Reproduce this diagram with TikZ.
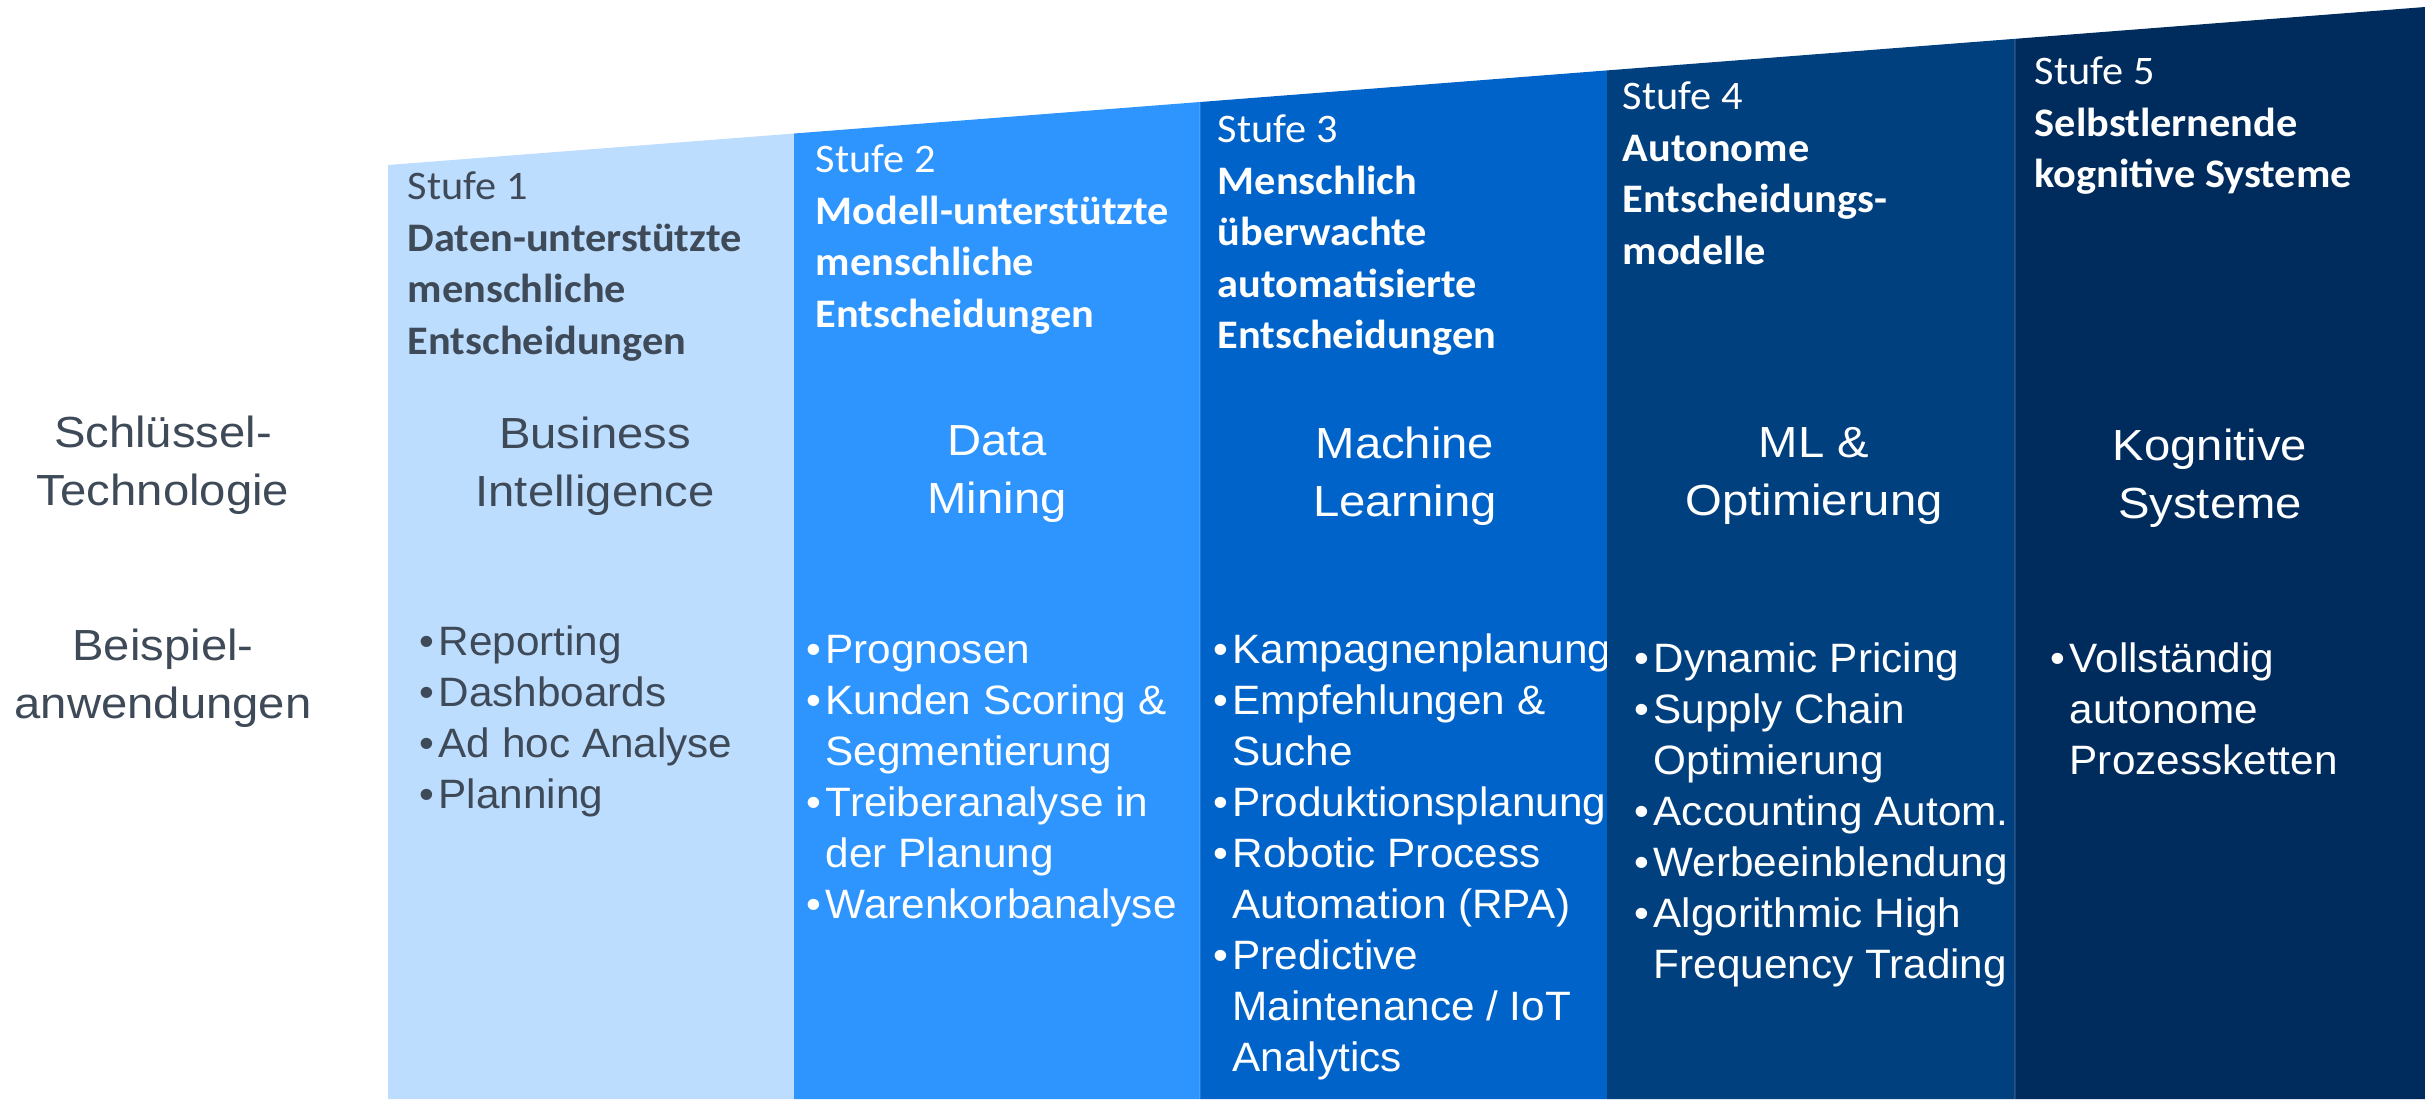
\documentclass[tikz,border=0pt]{standalone}
\usepackage{fontspec}
\setmainfont{Liberation Sans}
\newfontfamily\calib[FakeStretch=1.045]{Carlito}
\newfontfamily\techfont[FakeStretch=1.085]{Liberation Sans}
\newfontfamily\bulfont[FakeStretch=1.03]{Liberation Sans}
\definecolor{cone}{HTML}{BDDDFF}
\definecolor{ctwo}{HTML}{2E95FF}
\definecolor{cthree}{HTML}{0063C9}
\definecolor{cfour}{HTML}{00407F}
\definecolor{cfive}{HTML}{002C5D}
\definecolor{darktxt}{HTML}{3F4A58}
\newcommand\bpt{\makebox[0.19cm][l]{•}}
\newcommand\bsp{\hspace*{0.19cm}}
\tikzset{
  stufetxt/.style={anchor=north west, inner sep=0pt, align=left, font=\calib\fontsize{11.52}{14.65}\selectfont},
  techtxt/.style={anchor=north, inner sep=0pt, align=center, font=\techfont\fontsize{12.38}{16.5}\selectfont},
  bultxt/.style={anchor=north west, inner sep=0pt, align=left, font=\bulfont\fontsize{11.67}{14.51}\selectfont},
  seam/.style={white, opacity=0.12, line width=0.012cm},
}
\begin{document}
\begin{tikzpicture}[x=0.01cm,y=-0.01cm]
\useasboundingbox (0,0) rectangle (2425,1099);
% left labels
\node[techtxt, text=darktxt] (lkey) at (163,406.5) {\strut Schlüssel-\\Technologie};
\node[techtxt, text=darktxt] (lbsp) at (163,619) {\strut Beispiel-\\anwendungen};
% column 1
\fill[cone] (388,165) -- (794,133.5) -- (794,1099) -- (388,1099) -- cycle;
\node[stufetxt, text=darktxt] (s1) at (407,163) {\strut Stufe 1\\\textbf{Daten-unterstützte}\\\textbf{menschliche}\\\textbf{Entscheidungen}};
\node[techtxt, text=darktxt] (t1) at (595,407.5) {\strut Business\\Intelligence};
\node[bultxt, text=darktxt] (b1) at (419,619) {\strut\bpt Reporting\\\bpt Dashboards\\\bpt Ad hoc Analyse\\\bpt Planning};
% column 2
\fill[ctwo] (794,133.5) -- (1200,102) -- (1200,1099) -- (794,1099) -- cycle;
\node[stufetxt, text=white] (s2) at (815,136) {\strut Stufe 2\\\textbf{Modell-unterstützte}\\\textbf{menschliche}\\\textbf{Entscheidungen}};
\node[techtxt, text=white] (t2) at (997,414.5) {\strut Data\\Mining};
\node[bultxt, text=white] (b2) at (806,627) {\strut\bpt Prognosen\\\bpt Kunden Scoring \&\\\bsp Segmentierung\\\bpt Treiberanalyse in\\\bsp der Planung\\\bpt Warenkorbanalyse};
% column 3
\fill[cthree] (1200,102) -- (1607,70.4) -- (1607,1099) -- (1200,1099) -- cycle;
\draw[seam] (1200,102) -- (1200,1099);
\node[stufetxt, text=white] (s3) at (1217,106) {\strut Stufe 3\\\textbf{Menschlich}\\\textbf{überwachte}\\\textbf{automatisierte}\\\textbf{Entscheidungen}};
\node[techtxt, text=white] (t3) at (1405,417.5) {\strut Machine\\Learning};
\node[bultxt, text=white] (b3) at (1213,627) {\strut\bpt Kampagnenplanung\\\bpt Empfehlungen \&\\\bsp Suche\\\bpt Produktionsplanung\\\bpt Robotic Process\\\bsp Automation (RPA)\\\bpt Predictive\\\bsp Maintenance / IoT\\\bsp Analytics};
% column 4
\fill[cfour] (1607,70.4) -- (2015,38.8) -- (2015,1099) -- (1607,1099) -- cycle;
\node[stufetxt, text=white] (s4) at (1622,73) {\strut Stufe 4\\\textbf{Autonome}\\\textbf{Entscheidungs-}\\\textbf{modelle}};
\node[techtxt, text=white] (t4) at (1814,416.5) {\strut ML \&\\Optimierung};
\node[bultxt, text=white] (b4) at (1634,636) {\strut\bpt Dynamic Pricing\\\bpt Supply Chain\\\bsp Optimierung\\\bpt Accounting Autom.\\\bpt Werbeeinblendung\\\bpt Algorithmic High\\\bsp Frequency Trading};
% column 5
\fill[cfive] (2015,38.8) -- (2425,7) -- (2425,1099) -- (2015,1099) -- cycle;
\draw[seam] (2015,38.8) -- (2015,1099);
\node[stufetxt, text=white] (s5) at (2034,48) {\strut Stufe 5\\\textbf{Selbstlernende}\\\textbf{kognitive Systeme}};
\node[techtxt, text=white] (t5) at (2210,419.5) {\strut Kognitive\\Systeme};
\node[bultxt, text=white] (b5) at (2050,636) {\strut\bpt Vollständig\\\bsp autonome\\\bsp Prozessketten};
\end{tikzpicture}
\end{document}
